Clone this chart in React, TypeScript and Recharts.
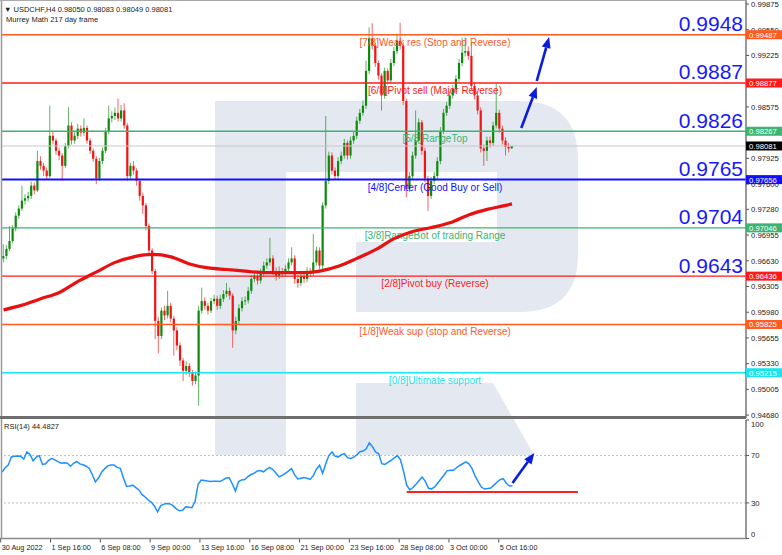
import React from "react";
import { ComposedChart, Bar, Line, XAxis, YAxis, ReferenceLine } from "recharts";

// ── Data (USDCHF H4, one entry per bar) ─────────────────────────────

const opens = [
  0.9666, 0.9669, 0.9678, 0.9688, 0.9704, 0.972, 0.9729, 0.9739, 0.9742, 0.9745,
  0.9758, 0.9752, 0.9789, 0.9783, 0.9777, 0.977, 0.9821, 0.9815, 0.9802, 0.9796,
  0.9783, 0.9808, 0.9834, 0.9815, 0.9821, 0.983, 0.9825, 0.9831, 0.9815, 0.9802,
  0.9792, 0.9767, 0.9789, 0.9802, 0.9827, 0.9843, 0.9846, 0.985, 0.9843, 0.9853,
  0.9834, 0.977, 0.9783, 0.9777, 0.9764, 0.9745, 0.9733, 0.9707, 0.9676, 0.965,
  0.9587, 0.9568, 0.96, 0.9594, 0.9606, 0.959, 0.9575, 0.9556, 0.9537, 0.9524,
  0.953, 0.9521, 0.9511, 0.9518, 0.96, 0.9612, 0.9606, 0.96, 0.9612, 0.9615,
  0.9606, 0.9615, 0.9621, 0.9625, 0.9619, 0.9575, 0.9587, 0.9603, 0.9612, 0.9613,
  0.9625, 0.964, 0.9644, 0.9638, 0.9648, 0.9657, 0.9661, 0.9666, 0.965, 0.9644,
  0.965, 0.9648, 0.9653, 0.9661, 0.9666, 0.964, 0.9635, 0.9644, 0.964, 0.965,
  0.9648, 0.9661, 0.9676, 0.9657, 0.9733, 0.9764, 0.9796, 0.9777, 0.977, 0.9789,
  0.9796, 0.9812, 0.9796, 0.9815, 0.9821, 0.984, 0.985, 0.9859, 0.9903, 0.9944,
  0.9935, 0.9913, 0.9897, 0.9872, 0.9903, 0.9891, 0.9913, 0.9928, 0.9941, 0.9935,
  0.9865, 0.9754, 0.977, 0.9796, 0.9815, 0.9838, 0.9802, 0.9767, 0.9745, 0.9764,
  0.977, 0.9789, 0.9827, 0.985, 0.9859, 0.9872, 0.988, 0.9893, 0.9913, 0.9926,
  0.9928, 0.9922, 0.9884, 0.9872, 0.9853, 0.9805, 0.9802, 0.9815, 0.9812, 0.9834,
  0.985, 0.983, 0.9815, 0.9807, 0.9805,
];

const highs = [
  0.9684, 0.9683, 0.9707, 0.9708, 0.9724, 0.9733, 0.9758, 0.9747, 0.975, 0.9763,
  0.9762, 0.9802, 0.9795, 0.9787, 0.9781, 0.9859, 0.9827, 0.9818, 0.9806, 0.9799,
  0.9812, 0.9857, 0.9838, 0.9827, 0.9836, 0.9834, 0.9843, 0.9834, 0.9818, 0.9805,
  0.9795, 0.9793, 0.9806, 0.9831, 0.9859, 0.9852, 0.9857, 0.9868, 0.986, 0.9862,
  0.9837, 0.9787, 0.9789, 0.978, 0.9767, 0.9749, 0.9736, 0.971, 0.9679, 0.9653,
  0.9592, 0.9604, 0.9606, 0.9625, 0.961, 0.9593, 0.9579, 0.956, 0.954, 0.9536,
  0.9534, 0.9525, 0.9523, 0.9606, 0.9629, 0.9617, 0.961, 0.9616, 0.962, 0.9619,
  0.962, 0.9626, 0.9635, 0.9629, 0.9622, 0.9592, 0.9608, 0.9617, 0.9618, 0.963,
  0.9645, 0.965, 0.9648, 0.9653, 0.9662, 0.9666, 0.9692, 0.967, 0.9655, 0.9656,
  0.9654, 0.9658, 0.9666, 0.968, 0.967, 0.9645, 0.9649, 0.965, 0.9655, 0.9654,
  0.9697, 0.9681, 0.968, 0.9737, 0.9846, 0.9801, 0.98, 0.9781, 0.9794, 0.9801,
  0.9817, 0.9815, 0.982, 0.9826, 0.9845, 0.9855, 0.9866, 0.9916, 0.9958, 0.9963,
  0.9938, 0.9916, 0.99, 0.9907, 0.9906, 0.9918, 0.9933, 0.995, 0.9964, 0.9939,
  0.9868, 0.9775, 0.9801, 0.9853, 0.9843, 0.9841, 0.9806, 0.977, 0.9769, 0.9775,
  0.9794, 0.9832, 0.9855, 0.9864, 0.9877, 0.9885, 0.9898, 0.9918, 0.9945, 0.9945,
  0.9934, 0.9939, 0.9888, 0.9876, 0.9857, 0.981, 0.982, 0.982, 0.9839, 0.9887,
  0.9854, 0.9834, 0.9819, 0.9812, 0.98083,
];

const lows = [
  0.9661, 0.9665, 0.9675, 0.9685, 0.97, 0.9716, 0.9726, 0.9734, 0.9738, 0.9741,
  0.9747, 0.975, 0.9778, 0.977, 0.9765, 0.9767, 0.981, 0.9797, 0.979, 0.9764,
  0.978, 0.9805, 0.981, 0.9811, 0.9817, 0.982, 0.9821, 0.9811, 0.9798, 0.9788,
  0.976, 0.9764, 0.9785, 0.9799, 0.9823, 0.9838, 0.9841, 0.9839, 0.9839, 0.983,
  0.9764, 0.9766, 0.9772, 0.9758, 0.9739, 0.9722, 0.9701, 0.9669, 0.9646, 0.9564,
  0.9546, 0.9564, 0.9588, 0.959, 0.9585, 0.9543, 0.955, 0.953, 0.9511, 0.9519,
  0.9516, 0.9505, 0.9507, 0.948, 0.9596, 0.9601, 0.9595, 0.9597, 0.9608, 0.9601,
  0.9602, 0.9611, 0.9617, 0.9614, 0.9553, 0.957, 0.9583, 0.9599, 0.9607, 0.9609,
  0.9621, 0.9636, 0.9633, 0.9634, 0.9644, 0.9653, 0.9657, 0.9645, 0.9638, 0.964,
  0.9642, 0.9643, 0.9649, 0.9657, 0.9634, 0.9629, 0.9631, 0.9635, 0.9636, 0.9643,
  0.9644, 0.9657, 0.9652, 0.965, 0.9729, 0.976, 0.9772, 0.9765, 0.9766, 0.9785,
  0.9792, 0.9791, 0.9792, 0.9811, 0.9817, 0.9836, 0.9846, 0.9855, 0.9899, 0.993,
  0.9908, 0.9892, 0.9853, 0.9868, 0.9886, 0.9887, 0.9909, 0.9924, 0.993, 0.986,
  0.9743, 0.975, 0.9766, 0.9792, 0.9811, 0.9797, 0.9762, 0.9726, 0.9741, 0.976,
  0.9766, 0.9785, 0.9823, 0.9846, 0.9855, 0.9868, 0.9876, 0.9889, 0.9909, 0.9921,
  0.9917, 0.9879, 0.9867, 0.9848, 0.98, 0.9783, 0.9789, 0.9806, 0.9808, 0.983,
  0.9825, 0.981, 0.9796, 0.98, 0.98049,
];

const closes = [
  0.9669, 0.9678, 0.9688, 0.9704, 0.972, 0.9729, 0.9739, 0.9742, 0.9745, 0.9758,
  0.9752, 0.9789, 0.9783, 0.9777, 0.977, 0.9821, 0.9815, 0.9802, 0.9796, 0.9783,
  0.9808, 0.9834, 0.9815, 0.9821, 0.983, 0.9825, 0.9831, 0.9815, 0.9802, 0.9792,
  0.9767, 0.9789, 0.9802, 0.9827, 0.9843, 0.9846, 0.985, 0.9843, 0.9853, 0.9834,
  0.977, 0.9783, 0.9777, 0.9764, 0.9745, 0.9733, 0.9707, 0.9676, 0.965, 0.9587,
  0.9568, 0.96, 0.9594, 0.9606, 0.959, 0.9575, 0.9556, 0.9537, 0.9524, 0.953,
  0.9521, 0.9511, 0.9518, 0.96, 0.9612, 0.9606, 0.96, 0.9612, 0.9615, 0.9606,
  0.9615, 0.9621, 0.9625, 0.9619, 0.9575, 0.9587, 0.9603, 0.9612, 0.9613, 0.9625,
  0.964, 0.9644, 0.9638, 0.9648, 0.9657, 0.9661, 0.9666, 0.965, 0.9644, 0.965,
  0.9648, 0.9653, 0.9661, 0.9666, 0.964, 0.9635, 0.9644, 0.964, 0.965, 0.9648,
  0.9661, 0.9676, 0.9657, 0.9733, 0.9764, 0.9796, 0.9777, 0.977, 0.9789, 0.9796,
  0.9812, 0.9796, 0.9815, 0.9821, 0.984, 0.985, 0.9859, 0.9903, 0.9944, 0.9935,
  0.9913, 0.9897, 0.9872, 0.9903, 0.9891, 0.9913, 0.9928, 0.9941, 0.9935, 0.9865,
  0.9754, 0.977, 0.9796, 0.9815, 0.9838, 0.9802, 0.9767, 0.9745, 0.9764, 0.977,
  0.9789, 0.9827, 0.985, 0.9859, 0.9872, 0.988, 0.9893, 0.9913, 0.9926, 0.9928,
  0.9922, 0.9884, 0.9872, 0.9853, 0.9805, 0.9802, 0.9815, 0.9812, 0.9834, 0.985,
  0.983, 0.9815, 0.9807, 0.9805, 0.98081,
];

// moving average, read once per trading day
const maBars = [
  0, 6, 12, 18, 24, 30, 36, 42, 48, 54, 60, 66, 72, 78, 84, 90, 96, 102, 108,
  114, 120, 126, 132, 138, 144, 150, 156, 162, 164,
];
const maValues = [
  0.9601, 0.9607, 0.9615, 0.9623, 0.9637, 0.9649, 0.9661, 0.9668, 0.9671, 0.9668,
  0.9659, 0.9654, 0.9652, 0.965, 0.9648, 0.9648, 0.9648, 0.965, 0.9656, 0.9666,
  0.9677, 0.9691, 0.97, 0.9705, 0.9711, 0.9721, 0.9728, 0.9733, 0.9735,
];

const rsiValues = [
  56, 59.7, 61.9, 68.8, 69.4, 69.6, 69.4, 67, 73, 71,
  65.5, 68.7, 69.9, 62.5, 63, 66, 67.6, 66.3, 64.8, 63.5,
  64, 63.5, 61, 63.5, 65, 63, 62.2, 61, 59.3, 54,
  47.8, 51, 56, 59, 61.3, 62, 62, 60, 59.2, 51,
  44, 44.3, 45, 43, 41, 37, 35, 32.5, 30.5, 27.3,
  22.5, 27.8, 29, 29.6, 29.2, 27.5, 25, 23.4, 23.8, 26.8,
  26.4, 26, 31, 45.8, 49.4, 49, 48.5, 48.1, 48.4, 48.3,
  48.2, 49.5, 51, 51.2, 46, 40, 48, 49.4, 49.7, 52.3,
  54, 55, 57, 57.4, 56.3, 58.3, 60, 58.2, 55.3, 52,
  53.2, 55, 56.8, 59, 53.7, 50.2, 50.8, 51.5, 50.9, 49.9,
  53, 58.5, 61.8, 55, 63, 70, 73, 69.5, 68.7, 70.7,
  71.7, 68.2, 67.5, 68.6, 70.7, 73.3, 73.8, 75.7, 80.8, 77.5,
  73, 71.5, 63.2, 62.5, 64.2, 66, 68, 70, 66.5, 56.6,
  45, 41, 43, 45.8, 49, 51.8, 48.2, 42.4, 41.9, 43.5,
  46.8, 50.2, 53.6, 57.1, 57.5, 57.6, 59.7, 61.6, 63.1, 64.6,
  63, 58.9, 52.6, 47.7, 43.4, 41.7, 42.1, 42.6, 45, 47.5,
  49.7, 50.5, 46.6, 44.3, 44.4827,
];

const timeLabels = [
  "30 Aug 2022", "1 Sep 16:00", "6 Sep 08:00", "9 Sep 00:00", "13 Sep 16:00",
  "16 Sep 08:00", "21 Sep 00:00", "23 Sep 16:00", "28 Sep 08:00", "3 Oct 00:00",
  "5 Oct 16:00",
];

// 0.98900 and 0.98250 sit completely under the level boxes, so they are left out
const priceTicks = [
  0.99875, 0.9955, 0.99225, 0.98575, 0.97925, 0.976, 0.9728,
  0.96955, 0.9663, 0.96305, 0.9598, 0.95655, 0.9533, 0.95005, 0.9468,
];

// Murrey Math levels 7/8 .. 0/8
const levelValues = [0.99487, 0.98877, 0.98267, 0.97656, 0.97046, 0.96436, 0.95825, 0.95215];
const levelTexts = [
  "[7/8]Weak res (Stop and Reverse)",
  "[6/8]Pivot sell (Major Reverse)",
  "[5/8]RangeTop",
  "[4/8]Center (Good Buy or Sell)",
  "[3/8]RangeBot of trading Range",
  "[2/8]Pivot buy (Reverse)",
  "[1/8]Weak sup (stop and Reverse)",
  "[0/8]Ultimate support",
];
const levelBigTexts = ["0.9948", "0.9887", "0.9826", "0.9765", "0.9704", "0.9643", "", ""];

const lastPrice = 0.98081;
const rsiBands = [70, 30];
const rsiSupport = 39.2;

// forecast arrows: [fromBar, fromValue, toBar, toValue]
const priceArrows = [
  [167, 0.98308, 172, 0.98826],
  [172, 0.98902, 176, 0.99458],
];
const rsiArrow = [164, 46.8, 171, 72.2];
const rsiSupportBars = [130, 185];

// ── Layout / style ──────────────────────────────────────────────────

const W = 782;
const SLOTS = 240; // visible bar slots incl. empty space on the right
const LABEL_STEP = 16;
const PRICE_H = 418;
const RSI_H = 137;
const PRICE_DOMAIN: [number, number] = [0.94643, 0.99926];
const FONT = "'Liberation Sans', Arial, sans-serif";
const LEVEL_COLORS = [
  "#ff5a1f", "#ff1a1a", "#3cb371", "#1010ff", "#3cb371", "#ff1a1a", "#ff5a1f", "#19e3ee",
];
const BIG_COLOR = "#1818ff";
const ARROW_COLOR = "#0b1be0";
const WATERMARK = "#e4e9f1";

const priceRows: any[] = Array.from({ length: SLOTS }, (_, i) =>
  i < closes.length
    ? { i, open: opens[i], high: highs[i], low: lows[i], close: closes[i], ma: null }
    : { i }
);
maBars.forEach((b, k) => {
  priceRows[b].ma = maValues[k];
});
const rsiRows = Array.from({ length: SLOTS }, (_, i) => ({
  i,
  rsi: i < rsiValues.length ? rsiValues[i] : null,
}));

// level prices go last so their boxes sit on top of the plain ticks
const axisTicks = [...priceTicks, lastPrice, ...levelValues];

const candleRange = (d: any) => (d.close == null ? null : [d.low, d.high]);

// ── Pieces ──────────────────────────────────────────────────────────

function Candle(props: any) {
  const { x, y, width, height, payload } = props;
  if (!payload || payload.close == null || height == null) return null;
  const { open, high, low, close } = payload;
  const k = height / (high - low || 1e-9);
  const yO = y + (high - open) * k;
  const yC = y + (high - close) * k;
  const color = close >= open ? "#0d8a0d" : "#f51414";
  const cx = x + width / 2;
  const top = Math.min(yO, yC);
  const bh = Math.max(Math.abs(yC - yO), 1);
  return (
    <g>
      <line x1={cx} x2={cx} y1={y} y2={y + height} stroke={color} strokeWidth={1} strokeOpacity={0.65} />
      <rect x={cx - 1.1} y={top} width={2.2} height={bh} fill={color} />
    </g>
  );
}

function LevelLabel({ viewBox, k }: any) {
  if (!viewBox) return null;
  const { x, y, width } = viewBox;
  const right = x + width;
  return (
    <g fontFamily={FONT}>
      {levelBigTexts[k] ? (
        <text x={right - 3} y={y - 3.5} textAnchor="end" fontSize={21} fill={BIG_COLOR}>
          {levelBigTexts[k]}
        </text>
      ) : null}
      <text x={x + 433} y={y + 11} textAnchor="middle" fontSize={10} fill={LEVEL_COLORS[k]}>
        {levelTexts[k]}
      </text>
    </g>
  );
}

function PriceTick({ x, y, payload }: any) {
  const v = payload.value;
  const k = levelValues.indexOf(v);
  const boxed = k >= 0 || v === lastPrice;
  if (boxed) {
    const fill = k >= 0 ? LEVEL_COLORS[k] : "#000";
    return (
      <g fontFamily={FONT}>
        <rect x={x - 5} y={y - 4.5} width={36} height={9} fill={fill} />
        <text x={x - 2} y={y + 3} fontSize={7.7} fill="#fff">
          {v.toFixed(5)}
        </text>
      </g>
    );
  }
  return (
    <text x={x} y={y + 2.8} fontSize={7.7} fill="#222" fontFamily={FONT}>
      {v.toFixed(5)}
    </text>
  );
}

function Arrow(props: any) {
  const { x1, y1, x2, y2 } = props;
  if ([x1, y1, x2, y2].some((v) => v == null || isNaN(v))) return null;
  const a = Math.atan2(y2 - y1, x2 - x1);
  const len = 11;
  const half = 4.5;
  const bx = x2 - len * Math.cos(a);
  const by = y2 - len * Math.sin(a);
  const px = -Math.sin(a) * half;
  const py = Math.cos(a) * half;
  return (
    <g>
      <line x1={x1} y1={y1} x2={bx} y2={by} stroke={ARROW_COLOR} strokeWidth={2.6} />
      <polygon points={`${x2},${y2} ${bx + px},${by + py} ${bx - px},${by - py}`} fill={ARROW_COLOR} />
    </g>
  );
}

function RsiTick({ x, y, payload }: any) {
  const v = payload.value;
  const dy = v === 100 ? 6.5 : v === 0 ? -1.5 : 2.7;
  return (
    <text x={x} y={y + dy} fontSize={7.7} fill="#222" fontFamily={FONT} textAnchor="start">
      {v}
    </text>
  );
}

function TimeTick({ x, y, payload }: any) {
  const i = Number(payload.value);
  const label = i % LABEL_STEP === 0 ? timeLabels[i / LABEL_STEP] : undefined;
  if (!label) return <g />;
  const tx = x - 1.3;
  return (
    <g>
      <line x1={tx} x2={tx} y1={y} y2={y + 4} stroke="#555" />
      <text x={tx + 1} y={y + 11.5} fontSize={7.3} fill="#222" fontFamily={FONT}>
        {label}
      </text>
    </g>
  );
}

// ── App ─────────────────────────────────────────────────────────────

export default function App() {
  return (
    <div style={{ position: "absolute", left: 0, top: 0, width: W, height: 555, background: "#fff", overflow: "hidden" }}>
      {/* watermark */}
      <svg width={W} height={555} style={{ position: "absolute", left: 0, top: 0 }}>
        <path d="M215,101 H520 Q578,101 578,160 V254 Q578,312 520,312 H356 V242 H497 V172 H286 V455 H215 Z" fill={WATERMARK} />
        <polygon points="356,383 493,383 534,455 356,455" fill={WATERMARK} />
      </svg>

      <div style={{ position: "absolute", left: 0, top: 0 }}>
        <ComposedChart width={W} height={PRICE_H + 6} data={priceRows} margin={{ top: 0, right: 0, bottom: 6, left: 2 }}>
          <XAxis dataKey="i" type="category" hide />
          <YAxis
            orientation="right"
            type="number"
            width={36}
            domain={PRICE_DOMAIN}
            allowDataOverflow
            ticks={axisTicks}
            interval={0}
            tick={<PriceTick />}
            tickSize={3}
            tickMargin={2}
            axisLine={{ stroke: "#777", strokeWidth: 1.5 }}
            tickLine={{ stroke: "#555" }}
          />
          <ReferenceLine y={lastPrice} stroke="#c8c8c8" strokeWidth={1} />
          {levelValues.map((v, k) => (
            <ReferenceLine
              key={k}
              y={v}
              stroke={LEVEL_COLORS[k]}
              strokeWidth={k === 3 ? 2 : 1.3}
              label={(p: any) => <LevelLabel {...p} k={k} />}
            />
          ))}
          <Bar dataKey={candleRange} shape={Candle} isAnimationActive={false} />
          <Line dataKey="ma" type="monotone" stroke="#e81010" strokeWidth={3.2} dot={false} connectNulls isAnimationActive={false} />
          {priceArrows.map((a, k) => (
            <ReferenceLine
              key={`a${k}`}
              segment={[{ x: a[0], y: a[1] }, { x: a[2], y: a[3] }]}
              shape={Arrow}
            />
          ))}
        </ComposedChart>
      </div>

      <div style={{ position: "absolute", left: 0, top: PRICE_H }}>
        <ComposedChart width={W} height={RSI_H} data={rsiRows} margin={{ top: 2, right: 0, bottom: 0, left: 2 }}>
          <XAxis
            dataKey="i"
            type="category"
            height={16.5}
            interval={0}
            tickSize={0}
            tickMargin={0}
            tickLine={false}
            axisLine={false}
            tick={<TimeTick />}
          />
          <YAxis
            orientation="right"
            type="number"
            width={36}
            domain={[0, 100]}
            ticks={[0, 30, 70, 100]}
            interval={0}
            tick={<RsiTick />}
            tickSize={3}
            tickMargin={2}
            axisLine={{ stroke: "#777", strokeWidth: 1.5 }}
            tickLine={{ stroke: "#555" }}
          />
          {rsiBands.map((v) => (
            <ReferenceLine key={v} y={v} stroke="#bdbdbd" strokeDasharray="2 2" />
          ))}
          <ReferenceLine
            segment={[{ x: rsiSupportBars[0], y: rsiSupport }, { x: rsiSupportBars[1], y: rsiSupport }]}
            stroke="#ff2020"
            strokeWidth={2}
          />
          <Line dataKey="rsi" type="linear" stroke="#1e90ff" strokeWidth={1.5} dot={false} isAnimationActive={false} />
          <ReferenceLine
            segment={[{ x: rsiArrow[0], y: rsiArrow[1] }, { x: rsiArrow[2], y: rsiArrow[3] }]}
            shape={Arrow}
          />
        </ComposedChart>
      </div>

      {/* frame and captions */}
      <svg width={W} height={555} style={{ position: "absolute", left: 0, top: 0, pointerEvents: "none" }} fontFamily={FONT}>
        <line x1={1.5} x2={1.5} y1={0} y2={539} stroke="#999" strokeWidth={1.5} />
        <line x1={0} x2={746} y1={0.5} y2={0.5} stroke="#aaa" strokeWidth={1} />
        <line x1={0} x2={746} y1={417.5} y2={417.5} stroke="#6e6e6e" strokeWidth={3} />
        <line x1={0} x2={746} y1={538.5} y2={538.5} stroke="#8a8a8a" strokeWidth={1.5} />
        <text x={4} y={12} fontSize={7.5} fill="#222">
          {"▼ USDCHF,H4  0.98050 0.98083 0.98049 0.98081"}
        </text>
        <text x={6} y={21.5} fontSize={7.5} fill="#222">
          Murrey Math 217 day frame
        </text>
        <text x={4} y={429} fontSize={7.5} fill="#222">
          RSI(14) 44.4827
        </text>
      </svg>
    </div>
  );
}
